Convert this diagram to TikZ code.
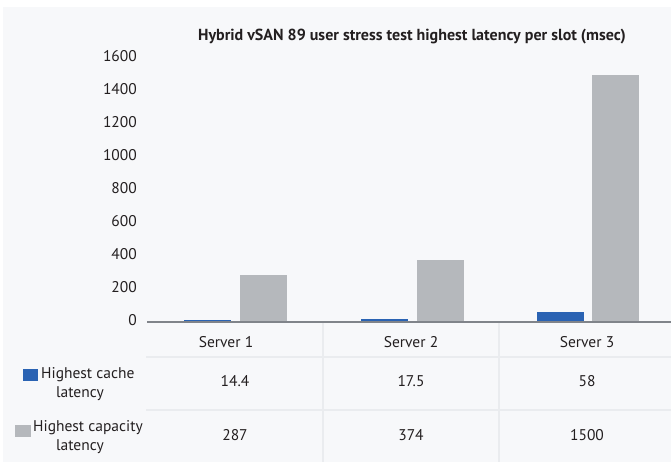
\documentclass[tikz,border=0pt]{standalone}
\usepackage{fontspec}
\setmainfont{PT Sans}
\definecolor{bg}{HTML}{F7F8FA}
\definecolor{cacheblue}{HTML}{2A63B3}
\definecolor{capgray}{HTML}{B5B8BC}
\definecolor{axisgray}{HTML}{80848A}
\definecolor{gridl}{HTML}{EAECEF}
\definecolor{txt}{HTML}{231F20}
\begin{document}
\begin{tikzpicture}[x=1pt,y=-1pt,
  tick/.style={anchor=east,font=\fontsize{15.5}{17}\selectfont,text=txt,inner sep=0pt},
  cell/.style={anchor=center,font=\fontsize{15.5}{17}\selectfont,text=txt,inner sep=0pt},
  leg/.style={anchor=center,font=\fontsize{15.5}{17}\selectfont,text=txt,inner sep=0pt},
  cachebar/.style={fill=cacheblue,draw=none},
  capbar/.style={fill=capgray,draw=none},
  tline/.style={draw=gridl,line width=1.8pt}]
\useasboundingbox (0,0) rectangle (671,462);
\fill[white] (0,0) rectangle (671,462);
\fill[bg] (3,7) rectangle (671,462);
% title
\node[anchor=center,font=\bfseries\fontsize{16}{18}\selectfont,text=txt,inner sep=0pt] (title) at (412,37) {Hybrid vSAN 89 user stress test highest latency per slot (msec)};
% y ticks
\foreach \v [count=\i from 0] in {0,200,400,600,800,1000,1200,1400,1600}
  \node[tick] (t\i) at (137,{320.5-\v*0.165}) {\v};
% bars
\fill[cachebar] (184,{322-14.4*0.165}) rectangle (231,322);
\fill[capbar] (240,{322-287*0.165}) rectangle (287,322);
\fill[cachebar] (361,{322-17.5*0.165}) rectangle (408,322);
\fill[capbar] (417,{322-374*0.165}) rectangle (464,322);
\fill[cachebar] (537,{322-58*0.165}) rectangle (584,322);
\fill[capbar] (592,{322-1500*0.165}) rectangle (639,322);
% table lines
\draw[tline] (146,357) -- (671,357);
\draw[tline] (146,410) -- (671,410);
\draw[tline] (323,323) -- (323,462);
\draw[tline] (499,323) -- (499,462);
% axis
\coordinate (ax0) at (147,322);
\coordinate (ax1) at (671,322);
\draw[axisgray,line width=1.3pt] (ax0) -- (ax1);
% headers
\node[cell] (s1) at (226,342) {Server 1};
\node[cell] (s2) at (411,342) {Server 2};
\node[cell] (s3) at (587,342) {Server 3};
% values
\node[cell] (c1) at (235,381) {14.4};
\node[cell] (c2) at (411,381) {17.5};
\node[cell] (c3) at (587,381) {58};
\node[cell] (p1) at (235,435) {287};
\node[cell] (p2) at (411,435) {374};
\node[cell] (p3) at (587,435) {1500};
% legend
\fill[cacheblue] (23,369) rectangle (38,381);
\node[leg,anchor=west] (l1a) at (41,375) {Highest cache};
\node[leg] (l1b) at (80,394) {latency};
\fill[capgray] (15,425) rectangle (31,437);
\node[leg,anchor=west] (l2a) at (33,428) {Highest capacity};
\node[leg] (l2b) at (80,447) {latency};
\end{tikzpicture}
\end{document}
